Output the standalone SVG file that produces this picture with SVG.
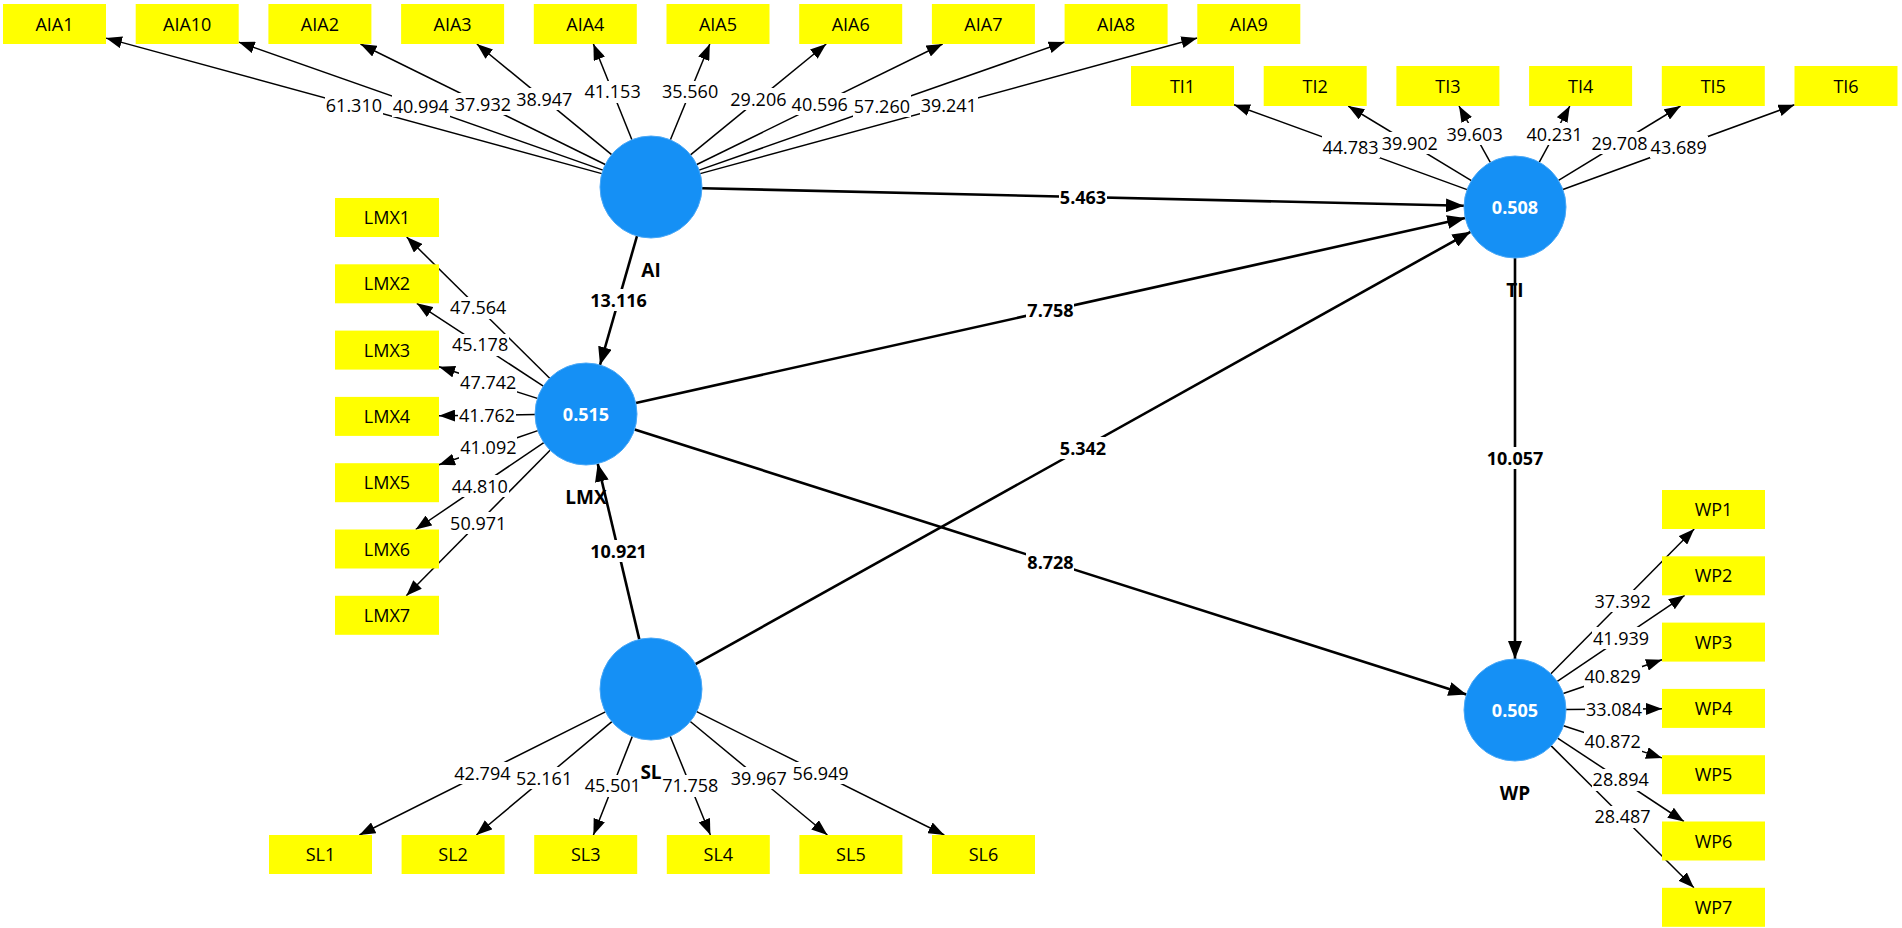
<svg xmlns="http://www.w3.org/2000/svg" width="1902" height="928" viewBox="0 0 1902 928">
<defs>
<marker id="am" viewBox="0 0 16 12" refX="16" refY="6" markerWidth="16" markerHeight="12" markerUnits="userSpaceOnUse" orient="auto"><path d="M0,0 L16,6 L0,12 z" fill="#000"/></marker>
<marker id="as" viewBox="0 0 18 14" refX="18" refY="7" markerWidth="18" markerHeight="14" markerUnits="userSpaceOnUse" orient="auto"><path d="M0,0 L18,7 L0,14 z" fill="#000"/></marker>
</defs>
<style>
text{font-family:"Open Sans","Noto Sans","Liberation Sans",sans-serif;font-size:18px;text-anchor:middle;fill:#000}
.box{fill:#ffff00}
.m{stroke:#000;stroke-width:1.5;fill:none;marker-end:url(#am)}
.s{stroke:#000;stroke-width:2.6;fill:none;marker-end:url(#as)}
.bg{fill:#fff}
.b{font-weight:bold}
.c{fill:#1590f5;stroke:#4aa8f7;stroke-width:1}
.ct{fill:#fff;font-weight:bold}
.nl{font-weight:bold;font-size:19px}
</style>
<rect width="1902" height="928" fill="#fff"/>
<g id="connectors">
<line class="m" x1="601.8" y1="173.6" x2="106" y2="38.1"/>
<line class="m" x1="602.9" y1="170.1" x2="238.7" y2="42.1"/>
<line class="m" x1="605.2" y1="164.5" x2="360.5" y2="44"/>
<line class="m" x1="611.6" y1="154.6" x2="476.9" y2="44"/>
<line class="m" x1="631.9" y1="139.7" x2="593.4" y2="44"/>
<line class="m" x1="670.4" y1="139.8" x2="709.8" y2="44"/>
<line class="m" x1="690.5" y1="154.8" x2="826.2" y2="44"/>
<line class="m" x1="696.8" y1="164.5" x2="942.6" y2="44"/>
<line class="m" x1="699.1" y1="170.1" x2="1064.6" y2="42"/>
<line class="m" x1="700.2" y1="173.6" x2="1197.3" y2="38"/>
<line class="m" x1="1467.1" y1="189.6" x2="1234" y2="104.7"/>
<line class="m" x1="1471.4" y1="180.6" x2="1348.2" y2="106"/>
<line class="m" x1="1490.3" y1="162.4" x2="1459" y2="106"/>
<line class="m" x1="1539.3" y1="162.2" x2="1569.8" y2="106"/>
<line class="m" x1="1558.5" y1="180.4" x2="1680.5" y2="106"/>
<line class="m" x1="1562.9" y1="189.5" x2="1794.5" y2="104.8"/>
<line class="m" x1="549.7" y1="378.2" x2="406.7" y2="237"/>
<line class="m" x1="543.3" y1="386.1" x2="416.8" y2="303.3"/>
<line class="m" x1="537.4" y1="398.4" x2="439" y2="366.8"/>
<line class="m" x1="535" y1="414.6" x2="439" y2="415.8"/>
<line class="m" x1="537.8" y1="430.6" x2="439" y2="464.7"/>
<line class="m" x1="543.8" y1="442.6" x2="415.7" y2="529.5"/>
<line class="m" x1="550.1" y1="450.3" x2="406.3" y2="595.8"/>
<line class="m" x1="605.4" y1="711.8" x2="359.4" y2="835"/>
<line class="m" x1="611.9" y1="721.7" x2="476.4" y2="835"/>
<line class="m" x1="632.3" y1="736.4" x2="593.4" y2="835"/>
<line class="m" x1="670.2" y1="736.2" x2="710.4" y2="835"/>
<line class="m" x1="690.3" y1="721.5" x2="827.4" y2="835"/>
<line class="m" x1="696.7" y1="711.7" x2="944.3" y2="835"/>
<line class="m" x1="1550.9" y1="673.8" x2="1694.2" y2="529"/>
<line class="m" x1="1557.3" y1="681.4" x2="1684.7" y2="595.3"/>
<line class="m" x1="1563.3" y1="693.5" x2="1662" y2="659.7"/>
<line class="m" x1="1566" y1="709.6" x2="1662" y2="708.8"/>
<line class="m" x1="1563.5" y1="725.8" x2="1662" y2="757.9"/>
<line class="m" x1="1557.6" y1="738.1" x2="1683.9" y2="821.5"/>
<line class="m" x1="1551.2" y1="745.9" x2="1693.9" y2="887.8"/>
<line class="s" x1="702" y1="188.2" x2="1464" y2="205.8"/>
<line class="s" x1="637" y1="236" x2="600" y2="365"/>
<line class="s" x1="635.8" y1="402.9" x2="1465.2" y2="218.1"/>
<line class="s" x1="695.5" y1="664.2" x2="1470.5" y2="231.8"/>
<line class="s" x1="634.6" y1="429.5" x2="1466.4" y2="694.5"/>
<line class="s" x1="1515" y1="258" x2="1515" y2="659"/>
<line class="s" x1="639.3" y1="639.4" x2="597.7" y2="463.6"/>
<g id="weights">
<rect class="bg" x="325" y="95" width="58" height="22"/><text x="353.9" y="112.3">61.310</text>
<rect class="bg" x="392" y="95" width="58" height="22"/><text x="420.8" y="112.6">40.994</text>
<rect class="bg" x="454" y="93" width="58" height="22"/><text x="482.9" y="110.8">37.932</text>
<rect class="bg" x="515" y="88" width="58" height="22"/><text x="544.3" y="105.8">38.947</text>
<rect class="bg" x="584" y="81" width="58" height="22"/><text x="612.6" y="98.4">41.153</text>
<rect class="bg" x="661" y="81" width="58" height="22"/><text x="690.1" y="98.4">35.560</text>
<rect class="bg" x="729" y="88" width="58" height="22"/><text x="758.4" y="105.9">29.206</text>
<rect class="bg" x="791" y="93" width="58" height="22"/><text x="819.7" y="110.8">40.596</text>
<rect class="bg" x="853" y="95" width="58" height="22"/><text x="881.9" y="112.6">57.260</text>
<rect class="bg" x="920" y="95" width="58" height="22"/><text x="948.8" y="112.3">39.241</text>
<rect class="bg" x="1322" y="136" width="58" height="22"/><text x="1350.5" y="153.7">44.783</text>
<rect class="bg" x="1381" y="132" width="58" height="22"/><text x="1409.8" y="149.8">39.902</text>
<rect class="bg" x="1446" y="123" width="58" height="22"/><text x="1474.6" y="140.7">39.603</text>
<rect class="bg" x="1526" y="123" width="58" height="22"/><text x="1554.5" y="140.6">40.231</text>
<rect class="bg" x="1591" y="132" width="58" height="22"/><text x="1619.5" y="149.7">29.708</text>
<rect class="bg" x="1650" y="136" width="58" height="22"/><text x="1678.7" y="153.7">43.689</text>
<rect class="bg" x="449" y="297" width="58" height="22"/><text x="478.2" y="314.1">47.564</text>
<rect class="bg" x="451" y="334" width="58" height="22"/><text x="480.1" y="351.2">45.178</text>
<rect class="bg" x="459" y="372" width="58" height="22"/><text x="488.2" y="389.1">47.742</text>
<rect class="bg" x="458" y="404" width="58" height="22"/><text x="487" y="421.7">41.762</text>
<rect class="bg" x="459" y="437" width="58" height="22"/><text x="488.4" y="454.2">41.092</text>
<rect class="bg" x="451" y="475" width="58" height="22"/><text x="479.8" y="492.6">44.810</text>
<rect class="bg" x="449" y="512" width="58" height="22"/><text x="478.2" y="529.6">50.971</text>
<rect class="bg" x="453" y="762" width="58" height="22"/><text x="482.4" y="779.9">42.794</text>
<rect class="bg" x="515" y="767" width="58" height="22"/><text x="544.1" y="784.9">52.161</text>
<rect class="bg" x="584" y="775" width="58" height="22"/><text x="612.8" y="792.2">45.501</text>
<rect class="bg" x="661" y="775" width="58" height="22"/><text x="690.3" y="792.1">71.758</text>
<rect class="bg" x="730" y="767" width="58" height="22"/><text x="758.8" y="784.7">39.967</text>
<rect class="bg" x="791" y="762" width="58" height="22"/><text x="820.5" y="779.9">56.949</text>
<rect class="bg" x="1594" y="590" width="58" height="22"/><text x="1622.6" y="607.9">37.392</text>
<rect class="bg" x="1592" y="627" width="58" height="22"/><text x="1621" y="644.9">41.939</text>
<rect class="bg" x="1584" y="666" width="58" height="22"/><text x="1612.6" y="683.1">40.829</text>
<rect class="bg" x="1585" y="698" width="58" height="22"/><text x="1614" y="715.7">33.084</text>
<rect class="bg" x="1584" y="731" width="58" height="22"/><text x="1612.7" y="748.3">40.872</text>
<rect class="bg" x="1592" y="769" width="58" height="22"/><text x="1620.7" y="786.3">28.894</text>
<rect class="bg" x="1594" y="806" width="58" height="22"/><text x="1622.5" y="823.3">28.487</text>
</g>
<g id="paths">
<rect class="bg" x="1059" y="186" width="48" height="22"/><text class="b" x="1083" y="203.5">5.463</text>
<rect class="bg" x="589" y="289" width="60" height="22"/><text class="b" x="618.5" y="307">13.116</text>
<rect class="bg" x="1026" y="299" width="48" height="22"/><text class="b" x="1050.5" y="317">7.758</text>
<rect class="bg" x="1059" y="437" width="48" height="22"/><text class="b" x="1083" y="454.5">5.342</text>
<rect class="bg" x="1026" y="551" width="48" height="22"/><text class="b" x="1050.5" y="568.5">8.728</text>
<rect class="bg" x="1485" y="447" width="60" height="22"/><text class="b" x="1515" y="465">10.057</text>
<rect class="bg" x="589" y="540" width="60" height="22"/><text class="b" x="618.5" y="558">10.921</text>
</g>
</g>
<g id="AI"><circle class="c" cx="651" cy="187" r="51"/><text class="nl" x="651" y="277">AI</text></g>
<g id="TI"><circle class="c" cx="1515" cy="207" r="51"/><text class="ct" x="1515" y="213.5">0.508</text><text class="nl" x="1515" y="297">TI</text></g>
<g id="LMX"><circle class="c" cx="586" cy="414" r="51"/><text class="ct" x="586" y="420.5">0.515</text><text class="nl" x="586" y="504">LMX</text></g>
<g id="SL"><circle class="c" cx="651" cy="689" r="51"/><text class="nl" x="651" y="779">SL</text></g>
<g id="WP"><circle class="c" cx="1515" cy="710" r="51"/><text class="ct" x="1515" y="716.5">0.505</text><text class="nl" x="1515" y="800">WP</text></g>
<g id="AIA1"><rect class="box" x="3" y="4" width="103" height="40"/><text x="54.5" y="30.5">AIA1</text></g>
<g id="AIA10"><rect class="box" x="135.7" y="4" width="103" height="40"/><text x="187.2" y="30.5">AIA10</text></g>
<g id="AIA2"><rect class="box" x="268.4" y="4" width="103" height="40"/><text x="319.9" y="30.5">AIA2</text></g>
<g id="AIA3"><rect class="box" x="401.1" y="4" width="103" height="40"/><text x="452.6" y="30.5">AIA3</text></g>
<g id="AIA4"><rect class="box" x="533.8" y="4" width="103" height="40"/><text x="585.3" y="30.5">AIA4</text></g>
<g id="AIA5"><rect class="box" x="666.5" y="4" width="103" height="40"/><text x="718" y="30.5">AIA5</text></g>
<g id="AIA6"><rect class="box" x="799.2" y="4" width="103" height="40"/><text x="850.7" y="30.5">AIA6</text></g>
<g id="AIA7"><rect class="box" x="931.9" y="4" width="103" height="40"/><text x="983.4" y="30.5">AIA7</text></g>
<g id="AIA8"><rect class="box" x="1064.6" y="4" width="103" height="40"/><text x="1116.1" y="30.5">AIA8</text></g>
<g id="AIA9"><rect class="box" x="1197.3" y="4" width="103" height="40"/><text x="1248.8" y="30.5">AIA9</text></g>
<g id="TI1"><rect class="box" x="1131" y="66" width="103" height="40"/><text x="1182.5" y="92.5">TI1</text></g>
<g id="TI2"><rect class="box" x="1263.7" y="66" width="103" height="40"/><text x="1315.2" y="92.5">TI2</text></g>
<g id="TI3"><rect class="box" x="1396.4" y="66" width="103" height="40"/><text x="1447.9" y="92.5">TI3</text></g>
<g id="TI4"><rect class="box" x="1529.1" y="66" width="103" height="40"/><text x="1580.6" y="92.5">TI4</text></g>
<g id="TI5"><rect class="box" x="1661.8" y="66" width="103" height="40"/><text x="1713.3" y="92.5">TI5</text></g>
<g id="TI6"><rect class="box" x="1794.5" y="66" width="103" height="40"/><text x="1846" y="92.5">TI6</text></g>
<g id="LMX1"><rect class="box" x="335" y="198" width="104" height="39"/><text x="387" y="224">LMX1</text></g>
<g id="LMX2"><rect class="box" x="335" y="264.3" width="104" height="39"/><text x="387" y="290.3">LMX2</text></g>
<g id="LMX3"><rect class="box" x="335" y="330.6" width="104" height="39"/><text x="387" y="356.6">LMX3</text></g>
<g id="LMX4"><rect class="box" x="335" y="396.9" width="104" height="39"/><text x="387" y="422.9">LMX4</text></g>
<g id="LMX5"><rect class="box" x="335" y="463.2" width="104" height="39"/><text x="387" y="489.2">LMX5</text></g>
<g id="LMX6"><rect class="box" x="335" y="529.5" width="104" height="39"/><text x="387" y="555.5">LMX6</text></g>
<g id="LMX7"><rect class="box" x="335" y="595.8" width="104" height="39"/><text x="387" y="621.8">LMX7</text></g>
<g id="SL1"><rect class="box" x="269" y="835" width="103" height="39"/><text x="320.5" y="861">SL1</text></g>
<g id="SL2"><rect class="box" x="401.6" y="835" width="103" height="39"/><text x="453.1" y="861">SL2</text></g>
<g id="SL3"><rect class="box" x="534.2" y="835" width="103" height="39"/><text x="585.7" y="861">SL3</text></g>
<g id="SL4"><rect class="box" x="666.8" y="835" width="103" height="39"/><text x="718.3" y="861">SL4</text></g>
<g id="SL5"><rect class="box" x="799.4" y="835" width="103" height="39"/><text x="850.9" y="861">SL5</text></g>
<g id="SL6"><rect class="box" x="932" y="835" width="103" height="39"/><text x="983.5" y="861">SL6</text></g>
<g id="WP1"><rect class="box" x="1662" y="490" width="103" height="39"/><text x="1713.5" y="516">WP1</text></g>
<g id="WP2"><rect class="box" x="1662" y="556.3" width="103" height="39"/><text x="1713.5" y="582.3">WP2</text></g>
<g id="WP3"><rect class="box" x="1662" y="622.6" width="103" height="39"/><text x="1713.5" y="648.6">WP3</text></g>
<g id="WP4"><rect class="box" x="1662" y="688.9" width="103" height="39"/><text x="1713.5" y="714.9">WP4</text></g>
<g id="WP5"><rect class="box" x="1662" y="755.2" width="103" height="39"/><text x="1713.5" y="781.2">WP5</text></g>
<g id="WP6"><rect class="box" x="1662" y="821.5" width="103" height="39"/><text x="1713.5" y="847.5">WP6</text></g>
<g id="WP7"><rect class="box" x="1662" y="887.8" width="103" height="39"/><text x="1713.5" y="913.8">WP7</text></g>
</svg>
